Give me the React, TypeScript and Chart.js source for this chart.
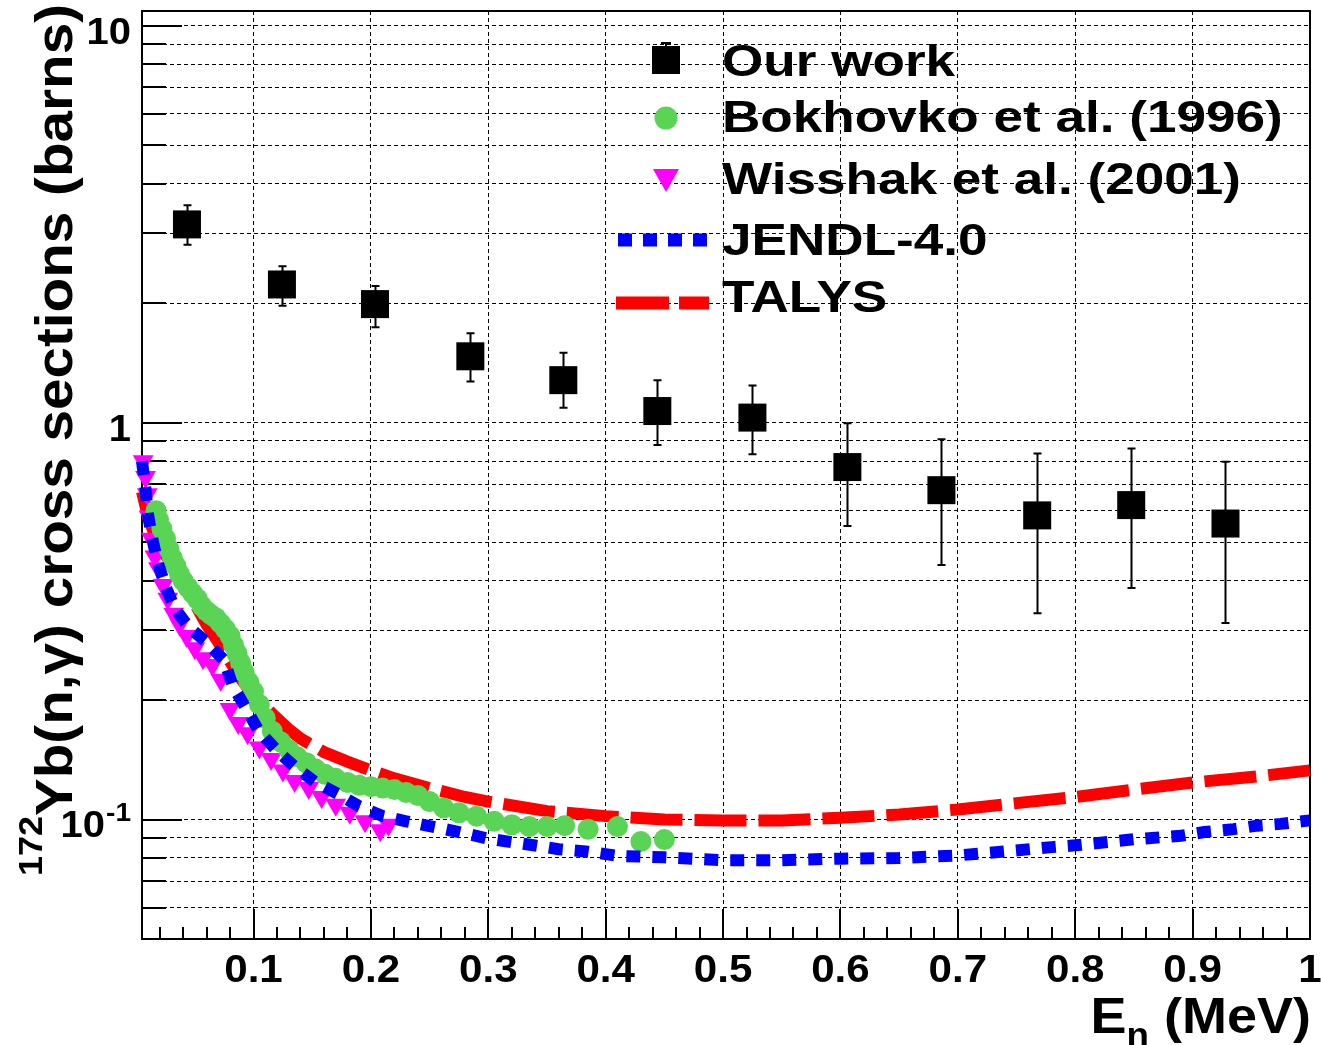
import React, { useEffect, useRef } from "react";
import { Chart, registerables } from "chart.js";

Chart.register(...registerables);

const FONT = '"Liberation Sans", Arial, Helvetica, sans-serif';
const GREEN = "#59d454";

// ---- Our work (black squares with vertical error bars) ----
const ourWorkE = [0.0433, 0.1242, 0.2035, 0.2847, 0.3639, 0.444, 0.525, 0.6059, 0.686, 0.7676, 0.8477, 0.928];
const ourWorkXS = [3.16, 2.23, 1.99, 1.47, 1.28, 1.07, 1.03, 0.773, 0.676, 0.584, 0.62, 0.557];
const ourWorkHigh = [3.53, 2.48, 2.21, 1.68, 1.5, 1.28, 1.24, 0.997, 0.909, 0.836, 0.861, 0.797];
const ourWorkLow = [2.81, 1.97, 1.74, 1.27, 1.09, 0.878, 0.833, 0.549, 0.438, 0.331, 0.383, 0.313];

// ---- Bokhovko et al. (1996) ----
const bokhovkoE = [
  0.017, 0.019, 0.022, 0.025, 0.028, 0.031, 0.034, 0.037, 0.04, 0.044, 0.048, 0.052, 0.056, 0.06,
  0.064, 0.068, 0.072, 0.076, 0.08, 0.083, 0.086, 0.089, 0.092, 0.096, 0.1, 0.105, 0.11, 0.116,
  0.123, 0.13, 0.137, 0.145, 0.153, 0.161, 0.17, 0.18, 0.19, 0.2, 0.21, 0.22, 0.23, 0.24, 0.25,
  0.262, 0.275, 0.29, 0.305, 0.32, 0.335, 0.35, 0.365, 0.385, 0.41, 0.43, 0.45,
];
const bokhovkoXS = [
  0.6, 0.57, 0.54, 0.51, 0.48, 0.455, 0.435, 0.415, 0.4, 0.385, 0.372, 0.36, 0.345, 0.335,
  0.328, 0.322, 0.312, 0.302, 0.29, 0.275, 0.262, 0.248, 0.235, 0.222, 0.21, 0.195, 0.18, 0.167,
  0.157, 0.15, 0.144, 0.139, 0.134, 0.13, 0.127, 0.124, 0.122, 0.121, 0.12, 0.119, 0.117, 0.115, 0.111,
  0.107, 0.104, 0.102, 0.099, 0.097, 0.096, 0.096, 0.0965, 0.0945, 0.096, 0.088, 0.089,
];

// ---- Wisshak et al. (2001) ----
const wisshakE = [
  0.006, 0.008, 0.0095, 0.011, 0.013, 0.016, 0.019, 0.023, 0.027, 0.032, 0.037, 0.043, 0.05, 0.057,
  0.065, 0.072, 0.08, 0.087, 0.095, 0.105, 0.115, 0.125, 0.135, 0.147, 0.158, 0.17, 0.182, 0.195, 0.208, 0.215,
];
const wisshakXS = [
  0.8, 0.73, 0.66, 0.58, 0.51, 0.46, 0.43, 0.39, 0.36, 0.33, 0.31, 0.29, 0.27, 0.255,
  0.245, 0.225, 0.19, 0.175, 0.165, 0.152, 0.142, 0.133, 0.125, 0.12, 0.114, 0.109, 0.104, 0.099, 0.094, 0.097,
];

// ---- JENDL-4.0 ----
const jendlE = [
  0.005, 0.008, 0.01, 0.0135, 0.018, 0.025, 0.033, 0.045, 0.06, 0.075, 0.082, 0.093, 0.104, 0.12,
  0.135, 0.153, 0.172, 0.19, 0.21, 0.23, 0.25, 0.275, 0.3, 0.32, 0.34, 0.36, 0.385, 0.41, 0.45, 0.5,
  0.55, 0.6, 0.65, 0.7, 0.74, 0.78, 0.8, 0.85, 0.89, 0.91, 0.935, 0.955, 0.975, 1.0,
];
const jendlXS = [
  0.8, 0.68, 0.59, 0.515, 0.448, 0.387, 0.34, 0.305, 0.28, 0.252, 0.218, 0.192, 0.168, 0.149,
  0.136, 0.124, 0.116, 0.108, 0.102, 0.099, 0.0963, 0.093, 0.0895, 0.0877, 0.086, 0.0842, 0.083, 0.081, 0.0803, 0.079,
  0.079, 0.0797, 0.08, 0.0812, 0.0831, 0.0852, 0.0861, 0.0892, 0.091, 0.093, 0.0946, 0.0965, 0.0975, 0.0995,
];

// ---- TALYS ----
const talysE = [
  0.005, 0.01, 0.015, 0.02, 0.03, 0.04, 0.05, 0.06, 0.07, 0.08, 0.09, 0.1, 0.11, 0.12, 0.13, 0.14, 0.16, 0.18,
  0.2, 0.22, 0.25, 0.28, 0.3, 0.35, 0.4, 0.45, 0.5, 0.55, 0.6, 0.65, 0.7, 0.75, 0.8, 0.85, 0.9, 0.95, 1.0,
];
const talysXS = [
  0.67, 0.58, 0.53, 0.49, 0.44, 0.39, 0.35, 0.31, 0.28, 0.25, 0.225, 0.205, 0.192, 0.18, 0.169, 0.16, 0.148, 0.14,
  0.133, 0.127, 0.12, 0.114, 0.111, 0.105, 0.102, 0.1, 0.0995, 0.0995, 0.101, 0.103, 0.106, 0.11, 0.114, 0.119, 0.124, 0.128, 0.133,
];

// ---- axes ----
const xMin = 0.005;
const xMax = 1;
const yMin = 0.05;
const yMax = 10.9;
const xMajorTicks = [0.1, 0.2, 0.3, 0.4, 0.5, 0.6, 0.7, 0.8, 0.9, 1.0];
const xTickLabels = ["0.1", "0.2", "0.3", "0.4", "0.5", "0.6", "0.7", "0.8", "0.9", "1"];
const yGridValues = [
  0.06, 0.07, 0.08, 0.09, 0.1, 0.2, 0.3, 0.4, 0.5, 0.6, 0.7, 0.8, 0.9, 1, 2, 3, 4, 5, 6, 7, 8, 9, 10,
];
const yMajorTicks = [0.1, 1, 10];
const yTickBase = ["10", "1", "10"];
const yTickExp = ["-1", "", ""];

const xMinorTicks: number[] = [];
for (let k = 1; k < 50; k++) if (k % 5 !== 0) xMinorTicks.push(k * 0.02);

const yTitleSup = "172";
const yTitleMain = "Yb(n,\u03b3) cross sections (barns)";

// ---- legend ----
const legendLabels = ["Our work", "Bokhovko et al. (1996)", "Wisshak et al. (2001)", "JENDL-4.0", "TALYS"];
const legendKinds = ["square", "circle", "triangle", "dotted", "dashed"];
const legendColors = ["#000000", GREEN, "#ff00ff", "#0000ff", "#ff0000"];
const legendSymbolY = [60, 118, 180, 240, 303];
const legendTextY = [76, 132, 194, 255, 312];

const toPts = (xs: number[], ys: number[]) => xs.map((x, i) => ({ x, y: ys[i] }));

function drawText(ctx: CanvasRenderingContext2D, s: string, x: number, y: number, size: number, sx: number, align: string) {
  ctx.save();
  ctx.font = `bold ${size}px ${FONT}`;
  const w = ctx.measureText(s).width * sx;
  const x0 = align === "left" ? x : align === "right" ? x - w : x - w / 2;
  ctx.translate(x0, y);
  ctx.scale(sx, 1);
  ctx.textAlign = "left";
  ctx.textBaseline = "alphabetic";
  ctx.fillStyle = "#000";
  ctx.fillText(s, 0, 0);
  ctx.restore();
  return w;
}

const decor = {
  id: "decor",
  beforeDatasetsDraw(chart: any) {
    const { ctx, chartArea: a, scales } = chart;
    const xs = scales.x;
    const ys = scales.y;
    ctx.save();
    ctx.setLineDash([]);
    ctx.strokeStyle = "#000";
    ctx.lineWidth = 2;
    ctx.beginPath();
    for (const v of yGridValues) {
      const py = Math.round(ys.getPixelForValue(v));
      const len = yMajorTicks.includes(v) ? 40 : 24;
      ctx.moveTo(a.left, py);
      ctx.lineTo(a.left + len, py);
    }
    for (const v of xMinorTicks) {
      const px = Math.round(xs.getPixelForValue(v));
      ctx.moveTo(px, a.bottom);
      ctx.lineTo(px, a.bottom - 12);
    }
    for (const v of xMajorTicks) {
      const px = Math.round(xs.getPixelForValue(v));
      ctx.moveTo(px, a.bottom);
      ctx.lineTo(px, a.bottom - 30);
    }
    ctx.stroke();
    ctx.strokeRect(a.left, a.top, a.right - a.left, a.bottom - a.top);
    ctx.restore();
  },
  afterDatasetsDraw(chart: any) {
    const { ctx, scales } = chart;
    const xs = scales.x;
    const ys = scales.y;
    ctx.save();
    ctx.setLineDash([]);
    ctx.strokeStyle = "#000";
    ctx.lineWidth = 2;
    ctx.beginPath();
    ourWorkE.forEach((e, i) => {
      const px = Math.round(xs.getPixelForValue(e)) + 0.5;
      const hi = ys.getPixelForValue(ourWorkHigh[i]);
      const lo = ys.getPixelForValue(ourWorkLow[i]);
      ctx.moveTo(px, hi);
      ctx.lineTo(px, lo);
      ctx.moveTo(px - 4, hi);
      ctx.lineTo(px + 4, hi);
      ctx.moveTo(px - 4, lo);
      ctx.lineTo(px + 4, lo);
    });
    ctx.stroke();
    ctx.restore();
  },
  afterDraw(chart: any) {
    const { ctx, chartArea: a, scales } = chart;
    const xs = scales.x;
    const ys = scales.y;
    // x tick labels
    xMajorTicks.forEach((v, i) => {
      drawText(ctx, xTickLabels[i], xs.getPixelForValue(v), a.bottom + 43, 39, 1.08, "center");
    });
    // y tick labels
    yMajorTicks.forEach((v, i) => {
      const py = ys.getPixelForValue(v);
      const right = 131;
      if (yTickExp[i]) {
        const w = drawText(ctx, yTickExp[i], right, py + 1.5, 26, 1.08, "right");
        drawText(ctx, yTickBase[i], right - w - 1, py + 17.5, 37, 1.08, "right");
      } else {
        drawText(ctx, yTickBase[i], right, py + 18.5, 37, 1.08, "right");
      }
    });
    // x title
    ctx.save();
    const sxT = 1.08;
    ctx.font = `bold 50px ${FONT}`;
    const wE = ctx.measureText("E").width;
    const wM = ctx.measureText(" (MeV)").width;
    ctx.font = `bold 34px ${FONT}`;
    const wN = ctx.measureText("n").width;
    const total = (wE + wN + wM) * sxT;
    ctx.translate(1311 - total, 1033);
    ctx.scale(sxT, 1);
    ctx.fillStyle = "#000";
    ctx.font = `bold 50px ${FONT}`;
    ctx.fillText("E", 0, 0);
    ctx.fillText(" (MeV)", wE + wN, 0);
    ctx.font = `bold 34px ${FONT}`;
    ctx.fillText("n", wE, 13);
    ctx.restore();
    // y title
    ctx.save();
    ctx.fillStyle = "#000";
    ctx.translate(72, 876);
    ctx.rotate(-Math.PI / 2);
    ctx.font = `bold 33px ${FONT}`;
    const w1 = ctx.measureText(yTitleSup).width;
    ctx.font = `bold 52px ${FONT}`;
    const w2 = ctx.measureText(yTitleMain).width;
    const sxY = 872 / (w1 + w2);
    ctx.scale(sxY, 1);
    ctx.font = `bold 33px ${FONT}`;
    ctx.fillText(yTitleSup, 0, -30);
    ctx.font = `bold 52px ${FONT}`;
    ctx.fillText(yTitleMain, w1, 0);
    ctx.restore();
    // legend
    legendLabels.forEach((label, i) => {
      const cy = legendSymbolY[i];
      const col = legendColors[i];
      const kind = legendKinds[i];
      ctx.save();
      ctx.fillStyle = col;
      ctx.strokeStyle = col;
      if (kind === "square") {
        ctx.fillRect(652, cy - 14, 28, 28);
        ctx.lineWidth = 2;
        ctx.beginPath();
        ctx.moveTo(666, cy - 14);
        ctx.lineTo(666, cy - 17);
        ctx.moveTo(661, cy - 17);
        ctx.lineTo(671, cy - 17);
        ctx.stroke();
      } else if (kind === "circle") {
        ctx.beginPath();
        ctx.arc(666, cy, 11.5, 0, Math.PI * 2);
        ctx.fill();
      } else if (kind === "triangle") {
        ctx.beginPath();
        ctx.moveTo(653, cy - 11);
        ctx.lineTo(679, cy - 11);
        ctx.lineTo(666, cy + 12);
        ctx.closePath();
        ctx.fill();
      } else if (kind === "dotted") {
        ctx.lineWidth = 13;
        ctx.setLineDash([14, 11]);
        ctx.beginPath();
        ctx.moveTo(618, cy);
        ctx.lineTo(712, cy);
        ctx.stroke();
      } else {
        ctx.lineWidth = 13;
        ctx.setLineDash([53, 10]);
        ctx.beginPath();
        ctx.moveTo(616, cy);
        ctx.lineTo(709, cy);
        ctx.stroke();
      }
      ctx.restore();
      drawText(ctx, label, 722, legendTextY[i], 45, 1.18, "left");
    });
  },
};

export default function App() {
  const ref = useRef<HTMLCanvasElement>(null);
  useEffect(() => {
    const canvas = ref.current;
    if (!canvas) return;
    const chart = new Chart(canvas, {
      type: "scatter",
      data: {
        datasets: [
          {
            label: "Our work",
            data: toPts(ourWorkE, ourWorkXS),
            showLine: false,
            pointStyle: "rect",
            pointRadius: 19.8,
            pointBackgroundColor: "#000",
            pointBorderWidth: 0,
            order: 0,
            clip: false,
          },
          {
            label: "JENDL-4.0",
            data: toPts(jendlE, jendlXS),
            showLine: true,
            pointRadius: 0,
            borderColor: "#0000ff",
            borderWidth: 12,
            borderDash: [14, 12],
            borderCapStyle: "butt",
            tension: 0,
            order: 1,
            clip: false,
          },
          {
            label: "Bokhovko et al. (1996)",
            data: toPts(bokhovkoE, bokhovkoXS),
            showLine: false,
            pointStyle: "circle",
            pointRadius: 10.5,
            pointBackgroundColor: GREEN,
            pointBorderWidth: 0,
            order: 2,
            clip: false,
          },
          {
            label: "Wisshak et al. (2001)",
            data: toPts(wisshakE, wisshakXS),
            showLine: false,
            pointStyle: "triangle",
            pointRotation: 180,
            pointRadius: 12,
            pointBackgroundColor: "#ff00ff",
            pointBorderWidth: 0,
            order: 3,
            clip: false,
          },
          {
            label: "TALYS",
            data: toPts(talysE, talysXS),
            showLine: true,
            pointRadius: 0,
            borderColor: "#ff0000",
            borderWidth: 12,
            borderDash: [52, 12],
            borderCapStyle: "butt",
            tension: 0,
            order: 4,
            clip: false,
          },
        ] as any,
      },
      options: {
        animation: false,
        responsive: false,
        devicePixelRatio: 1,
        events: [],
        layout: { autoPadding: false, padding: { left: 0, right: 11, top: 11, bottom: 0 } },
        plugins: { legend: { display: false }, tooltip: { enabled: false } },
        scales: {
          x: {
            type: "linear",
            min: xMin,
            max: xMax,
            afterFit: (s: any) => {
              s.height = 106;
            },
            afterBuildTicks: (s: any) => {
              s.ticks = xMajorTicks.map((value) => ({ value }));
            },
            ticks: { display: false },
            grid: { color: "#000", lineWidth: 1, drawTicks: false },
            border: { display: false, dash: [4, 3] },
          },
          y: {
            type: "logarithmic",
            min: yMin,
            max: yMax,
            afterFit: (s: any) => {
              s.width = 142;
            },
            afterBuildTicks: (s: any) => {
              s.ticks = yGridValues.map((value) => ({ value }));
            },
            ticks: { display: false },
            grid: { color: "#000", lineWidth: 1, drawTicks: false },
            border: { display: false, dash: [4, 3] },
          },
        },
      } as any,
      plugins: [decor],
    });
    return () => chart.destroy();
  }, []);
  return (
    <div style={{ position: "absolute", left: 0, top: 0, width: 1321, height: 1045, background: "#fff" }}>
      <canvas ref={ref} width={1321} height={1045} style={{ display: "block", width: 1321, height: 1045 }} />
    </div>
  );
}
